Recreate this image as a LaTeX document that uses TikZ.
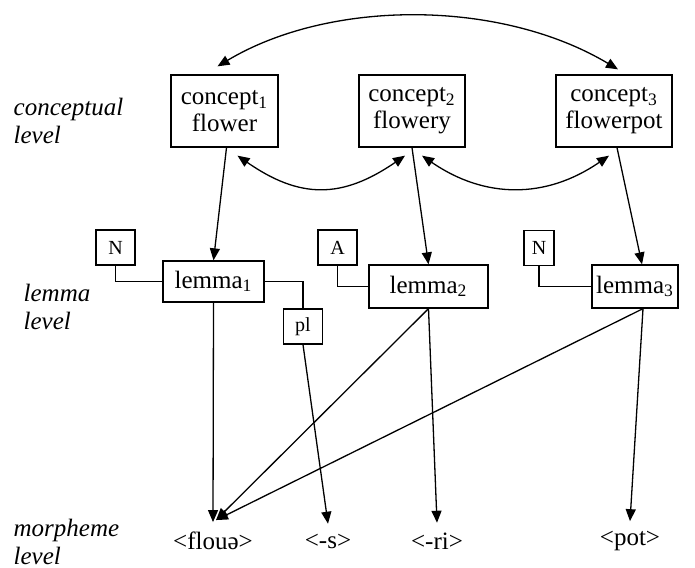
\documentclass[tikz,border=0pt]{standalone}
\usepackage{fontspec}
\setmainfont{Liberation Serif}
\usetikzlibrary{arrows.meta}

\begin{document}
\begin{tikzpicture}
[
    x=0.5pt, y=-0.5pt,
    line width=0.65pt,
    >={Triangle[length=6pt,width=5pt]},
    concept/.style={draw, align=center, minimum height=36pt, inner sep=1pt, font=\fontsize{12.5}{13.5}\selectfont},
    lemma/.style={draw, inner sep=1pt, font=\fontsize{12.5}{14}\selectfont},
    cat/.style={draw, minimum width=19.5pt, minimum height=17.5pt, inner sep=1pt, font=\fontsize{10}{11}\selectfont},
    morph/.style={inner sep=0pt, outer sep=5pt, font=\fontsize{12.5}{14}\selectfont},
    lvl/.style={anchor=north west, align=left, inner sep=0pt, font=\fontsize{12.5}{14}\selectfont\itshape},
]
\useasboundingbox (0,0) rectangle (695,567);

\node [lvl] (lvlc) at (13,98) {conceptual\\level};
\node [lvl] (lvll) at (23,283) {lemma\\level};
\node [lvl] (lvlm) at (13,518) {morpheme\\level};

\node [concept, minimum width=53.5pt] (c1) at (224.5,111) {concept\textsubscript{1}\\flower};
\node [concept, minimum width=53pt] (c2) at (412,111) {concept\textsubscript{2}\\flowery};
\node [concept, minimum width=58pt] (c3) at (614,111) {concept\textsubscript{3}\\flowerpot};

\node [lemma, minimum width=50.5pt, minimum height=20.5pt] (l1) at (213.5,281.5) {lemma\textsubscript{1}};
\node [lemma, minimum width=59.5pt, minimum height=21.5pt] (l2) at (428.5,286.5) {lemma\textsubscript{2}};
\node [lemma, minimum width=43pt, minimum height=21.5pt] (l3) at (635,286.5) {lemma\textsubscript{3}};

\node [cat] (n1) at (115.5,247.5) {N};
\node [cat] (a2) at (337.5,247.5) {A};
\node [cat, minimum width=15pt] (n3) at (539,248) {N};
\node [cat] (pl) at (303,326.5) {pl};

\node [morph] (floue) at (213,541) {<flouə>};
\node [morph] (s) at (328,541) {<-s>};
\node [morph] (ri) at (437,541) {<-ri>};
\node [morph] (pot) at (630,541) {<pot>};

\draw [<->] ([xshift=-3.5pt,yshift=4pt]c1.north) .. controls (330,-1) and (500,-1) .. ([xshift=2pt,yshift=2.5pt]c3.north);
\draw [<->] ([xshift=6.5pt,yshift=-4pt]c1.south) .. controls (300,199) and (342,199) .. ([xshift=-3.5pt,yshift=-4pt]c2.south);
\draw [<->] ([xshift=5pt,yshift=-4pt]c2.south) .. controls (485,199) and (546,199) .. ([xshift=-2.5pt,yshift=-4pt]c3.south);

\draw [->] ([xshift=1pt]c1.south) -- (l1.north);
\draw [->] (c2.south) -- (l2.north);
\draw [->] ([xshift=1.5pt]c3.south) -- ([xshift=3.5pt]l3.north);

\draw (n1.south) |- (l1.west);
\draw (a2.south) |- (l2.west);
\draw (n3.south) |- (l3.west);
\draw (l1.east) -| (pl.north);

\draw [->] (l1.south) -- (floue.north);
\draw [->] (l2.south) -- ([xshift=1.5pt,yshift=1pt]floue.north);
\draw [->] ([xshift=4pt]l3.south) -- ([xshift=1.5pt,yshift=1pt]floue.north);
\draw [->] (pl.south) -- (s.north);
\draw [->] (l2.south) -- (ri.north);
\draw [->] ([xshift=4pt]l3.south) -- (pot.north);
\end{tikzpicture}
\end{document}
